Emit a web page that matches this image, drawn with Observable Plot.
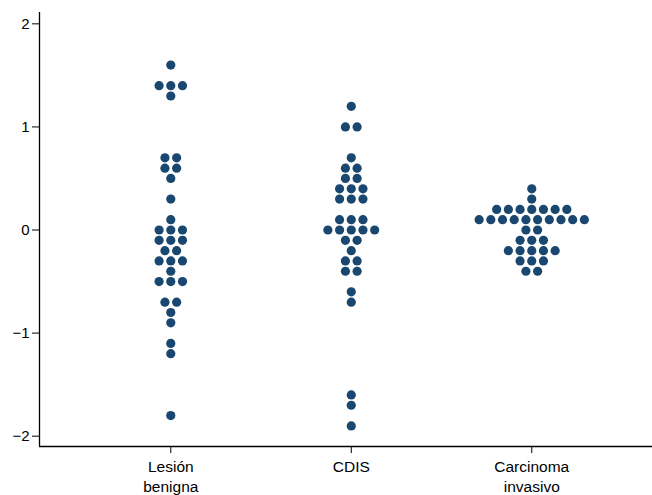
<!DOCTYPE html>
<html>
<head>
<meta charset="utf-8">
<script src="https://cdn.jsdelivr.net/npm/d3@7"></script>
<script src="https://cdn.jsdelivr.net/npm/@observablehq/plot@0.6"></script>
<style>
  html, body { margin: 0; padding: 0; background: #fff; }
  #chart svg { display: block; }
</style>
</head>
<body>
<div id="chart"></div>
<script>
// Categories and tick labels
const categories = ["Lesión benigna", "CDIS", "Carcinoma invasivo"];
const tickLabels = ["Lesión\nbenigna", "CDIS", "Carcinoma\ninvasivo"];
const yTicks = [-2, -1, 0, 1, 2];

// Values (one entry per dot)
const lesionValues = [
  1.6, 1.4, 1.4, 1.4, 1.3, 0.7, 0.7, 0.6, 0.6, 0.5, 0.3, 0.1,
  0, 0, 0, -0.1, -0.1, -0.1, -0.2, -0.2, -0.3, -0.3, -0.3, -0.4,
  -0.5, -0.5, -0.5, -0.7, -0.7, -0.8, -0.9, -1.1, -1.2, -1.8
];
const cdisValues = [
  1.2, 1.0, 1.0, 0.7, 0.6, 0.6, 0.5, 0.5, 0.4, 0.4, 0.4, 0.3, 0.3, 0.3,
  0.1, 0.1, 0.1, 0, 0, 0, 0, 0, -0.1, -0.1, -0.2, -0.3, -0.3,
  -0.4, -0.4, -0.6, -0.7, -1.6, -1.7, -1.9
];
const carcinomaValues = [
  0.4, 0.3, 0.2, 0.2, 0.2, 0.2, 0.2, 0.2, 0.2,
  0.1, 0.1, 0.1, 0.1, 0.1, 0.1, 0.1, 0.1, 0.1, 0.1,
  0, 0, -0.1, -0.1, -0.1, -0.2, -0.2, -0.2, -0.2, -0.2,
  -0.3, -0.3, -0.3, -0.4, -0.4
];

const seriesValues = [lesionValues, cdisValues, carcinomaValues];

// Dot-plot layout: dots sharing a value are spread side by side around the category position
const dotStep = 0.0648; // horizontal spacing between neighbouring dots, in x units
const dots = [];
seriesValues.forEach((values, ci) => {
  const groups = d3.group(values, v => Math.round(v * 10));
  for (const [key, arr] of groups) {
    const n = arr.length;
    arr.forEach((v, k) => {
      dots.push({ category: categories[ci], pos: ci + 1 + (k - (n - 1) / 2) * dotStep, value: v });
    });
  }
});

const xDomain = [0.2726, 3.669];
const yDomain = [-2.1, 2.11];
const navy = "#1a476f";
const font = "'Liberation Sans', Arial, Helvetica, sans-serif";
const fmtY = d => d < 0 ? "\u2212" + (-d) : String(d);

const chart = Plot.plot({
  width: 652,
  height: 495,
  marginLeft: 39,
  marginRight: 0,
  marginTop: 12,
  marginBottom: 49,
  style: { fontFamily: font, fontSize: "15px", color: "#000", background: "#fff" },
  x: { type: "linear", domain: xDomain, axis: null, label: null },
  y: { domain: yDomain, axis: null, label: null },
  marks: [
    Plot.ruleX([xDomain[0]], { stroke: "#000", strokeWidth: 1.3 }),
    Plot.ruleY([yDomain[0]], { stroke: "#000", strokeWidth: 1.3 }),
    Plot.axisY({
      ticks: yTicks,
      tickFormat: fmtY,
      label: null,
      tickSize: 7,
      tickPadding: 3,
      fontSize: 15,
      stroke: "#000",
      strokeWidth: 1,
      fill: "#000"
    }),
    Plot.axisX({
      ticks: [1, 2, 3],
      tickFormat: d => tickLabels[d - 1],
      label: null,
      tickSize: 7,
      tickPadding: 5,
      fontSize: 15.5,
      lineHeight: 1.27,
      stroke: "#000",
      fill: "#000"
    }),
    Plot.dot(dots, { x: "pos", y: "value", r: 4.6, fill: navy, stroke: "none" })
  ]
});

document.getElementById("chart").appendChild(chart);
</script>
</body>
</html>
